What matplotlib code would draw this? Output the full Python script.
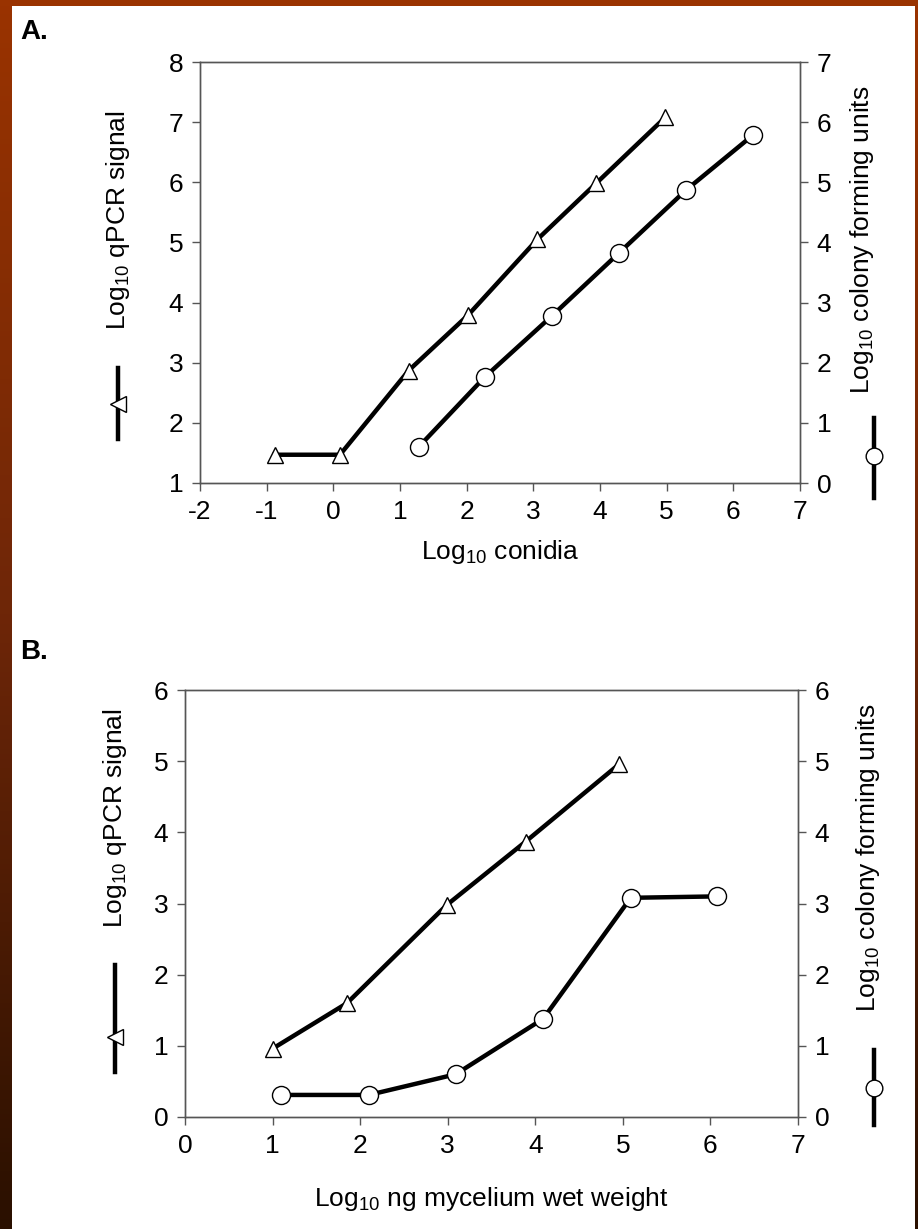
import numpy as np
import matplotlib
matplotlib.use("Agg")
import matplotlib.pyplot as plt
from matplotlib.lines import Line2D
from matplotlib.colors import LinearSegmentedColormap

plt.rcParams["font.family"] = ["Liberation Sans", "DejaVu Sans"]
plt.rcParams["mathtext.fontset"] = "custom"
plt.rcParams["mathtext.rm"] = "Liberation Sans"

# panel A: conidia
a_qpcr_x = [-0.88, 0.10, 1.13, 2.02, 3.06, 3.94, 4.98]
a_qpcr_y = [1.47, 1.47, 2.87, 3.79, 5.05, 5.98, 7.08]
a_cfu_x = [1.28, 2.27, 3.28, 4.28, 5.29, 6.30]
a_cfu_y = [0.60, 1.76, 2.78, 3.82, 4.87, 5.79]

# panel B: mycelium
b_qpcr_x = [1.00, 1.85, 2.99, 3.89, 4.96]
b_qpcr_y = [0.96, 1.60, 2.98, 3.87, 4.96]
b_cfu_x = [1.10, 2.10, 3.09, 4.09, 5.09, 6.08]
b_cfu_y = [0.31, 0.31, 0.60, 1.38, 3.08, 3.10]

W, H = 918, 1229
fig = plt.figure(figsize=(W / 100, H / 100), dpi=100)
fig.patch.set_facecolor("white")

# dark frame on left/top/right edges
bg = fig.add_axes([0, 0, 1, 1], zorder=-5)
bg.set_xlim(0, W)
bg.set_ylim(H, 0)
bg.axis("off")
grad = np.linspace(0, 1, 256).reshape(-1, 1)
cm = LinearSegmentedColormap.from_list("frame", ["#9a3300", "#6e2608", "#2a1000"])
bg.imshow(grad, cmap=cm, extent=(0, 12, H, 0), aspect="auto")
bg.imshow(grad, cmap=cm, extent=(915, W, H, 0), aspect="auto")
bg.add_patch(plt.Rectangle((0, 0), W, 6, color="#9a3300", lw=0))

FS = 19
line_kw = dict(color="black", lw=3.2, zorder=3)
tri_kw = dict(marker="^", ms=12, mfc="white", mec="black", mew=1.0, ls="none", zorder=4)
circ_kw = dict(marker="o", ms=13, mfc="white", mec="black", mew=1.0, ls="none", zorder=4)


def style(ax, ax2):
    for a in (ax, ax2):
        for s in a.spines.values():
            s.set_color("#555555")
            s.set_linewidth(1.0)
        a.tick_params(direction="out", length=6, width=1.0, color="#555555",
                      labelsize=FS, pad=6)


def fig_px(x, y):
    return x / W, 1 - y / H


def side_label(x, y_center, text):
    fx, fy = fig_px(x, y_center)
    fig.text(fx, fy, text, rotation=90, ha="center", va="center", fontsize=FS)


def side_key(x, y0, y1, ym, marker, ms):
    (fx, fy0), (_, fy1) = fig_px(x, y0), fig_px(x, y1)
    fig.add_artist(Line2D([fx, fx], [fy0, fy1], color="black", lw=3.2,
                          transform=fig.transFigure))
    _, fym = fig_px(x, ym)
    fig.add_artist(Line2D([fx], [fym], marker=marker, ms=ms, mfc="white",
                          mec="black", mew=1.0, transform=fig.transFigure))


# ---- panel A
axA = fig.add_axes([200 / W, 1 - 483 / H, 600 / W, 421 / H])
axA2 = axA.twinx()
axA.plot(a_qpcr_x, a_qpcr_y, **line_kw)
axA.plot(a_qpcr_x, a_qpcr_y, **tri_kw)
axA2.plot(a_cfu_x, a_cfu_y, **line_kw)
axA2.plot(a_cfu_x, a_cfu_y, **circ_kw)
axA.set_xlim(-2, 7)
axA.set_ylim(1, 8)
axA2.set_ylim(0, 7)
axA.set_xticks(range(-2, 8))
axA.set_xticklabels([str(v) for v in range(-2, 8)])
axA.set_yticks(range(1, 9))
axA2.set_yticks(range(0, 8))
axA.set_xlabel("Log$_{10}$ conidia", fontsize=FS, labelpad=10)
style(axA, axA2)

side_label(118, 220, "Log$_{10}$ qPCR signal")
side_key(118, 368, 439, 404, "<", 11)
side_label(862, 240, "Log$_{10}$ colony forming units")
side_key(874, 418, 498, 456, "o", 12)
fig.text(*fig_px(20, 32), "A.", fontsize=FS + 1, fontweight="bold", va="center")

# ---- panel B
axB = fig.add_axes([185 / W, 1 - 1117 / H, 613 / W, 427 / H])
axB2 = axB.twinx()
axB.plot(b_qpcr_x, b_qpcr_y, **line_kw)
axB.plot(b_qpcr_x, b_qpcr_y, **tri_kw)
axB2.plot(b_cfu_x, b_cfu_y, **line_kw)
axB2.plot(b_cfu_x, b_cfu_y, **circ_kw)
axB.set_xlim(0, 7)
axB.set_ylim(0, 6)
axB2.set_ylim(0, 6)
axB.set_xticks(range(0, 8))
axB.set_yticks(range(0, 7))
axB2.set_yticks(range(0, 7))
axB.set_xlabel("Log$_{10}$ ng mycelium wet weight", fontsize=FS, labelpad=20)
style(axB, axB2)

side_label(115, 818, "Log$_{10}$ qPCR signal")
side_key(115, 965, 1072, 1037, "<", 11)
side_label(868, 858, "Log$_{10}$ colony forming units")
side_key(874, 1050, 1125, 1088, "o", 12)
fig.text(*fig_px(20, 652), "B.", fontsize=FS + 1, fontweight="bold", va="center")

fig.savefig("out.png", dpi=100)
